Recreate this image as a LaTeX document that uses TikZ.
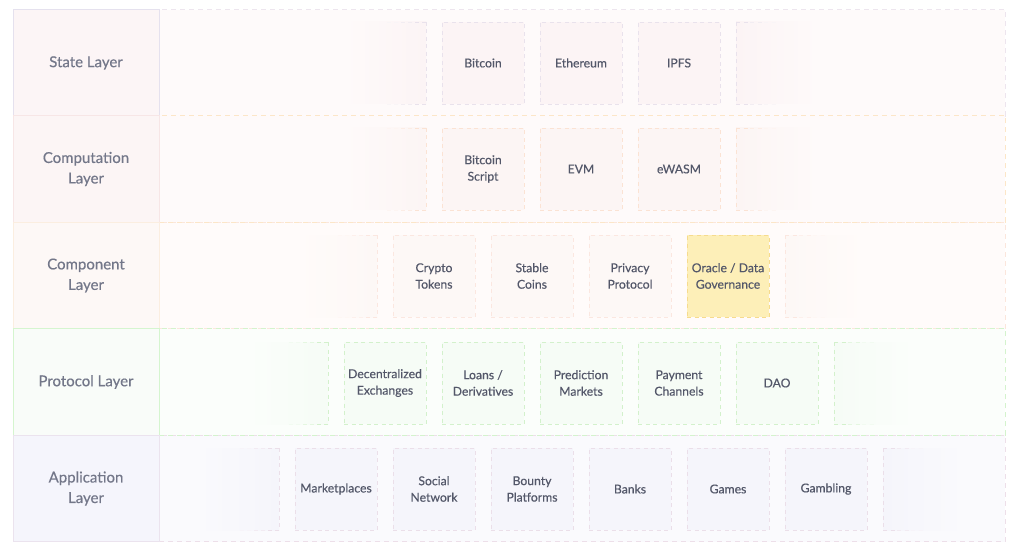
\documentclass[tikz,border=0pt]{standalone}
\usepackage{fontspec}
\setmainfont{Lato}[FakeBold=0.35]
\definecolor{txt}{HTML}{535769}
\definecolor{lbl}{HTML}{737789}
% state
\definecolor{sLf}{HTML}{FCF5F6}\definecolor{sLd}{HTML}{E5E1EE}
\definecolor{sRf}{HTML}{FEFAFA}\definecolor{sRd}{HTML}{EDE5EE}
\definecolor{sCf}{HTML}{FCF4F5}\definecolor{sCd}{HTML}{E9E2EC}
% computation
\definecolor{cLf}{HTML}{FCF5F5}\definecolor{cLd}{HTML}{F7E6E6}
\definecolor{cRf}{HTML}{FEFAFA}\definecolor{cRd}{HTML}{FCE6C8}
\definecolor{cCf}{HTML}{FCF5F4}\definecolor{cCd}{HTML}{FBE3D4}
% component
\definecolor{mLf}{HTML}{FDF8F6}\definecolor{mLd}{HTML}{FBEEE0}
\definecolor{mRf}{HTML}{FFFBFA}\definecolor{mRd}{HTML}{FBE6DC}
\definecolor{mCf}{HTML}{FDF8F6}\definecolor{mCd}{HTML}{FBE7E0}
\definecolor{orf}{HTML}{FDEFB8}\definecolor{ord}{HTML}{F6DB8E}
% protocol
\definecolor{pLf}{HTML}{F9FCF9}\definecolor{pLd}{HTML}{D5F5CF}
\definecolor{pRf}{HTML}{FBFEFB}\definecolor{pRd}{HTML}{D4F3CD}
\definecolor{pCf}{HTML}{F6FCF6}\definecolor{pCd}{HTML}{D3F1CC}
% application
\definecolor{aLf}{HTML}{F5F5FC}\definecolor{aLd}{HTML}{EBE3EE}
\definecolor{aRf}{HTML}{FAFAFD}\definecolor{aRd}{HTML}{EDDFE9}
\definecolor{aCf}{HTML}{F5F5FB}\definecolor{aCd}{HTML}{EBDFE9}
\tikzset{
  lblbox/.style={draw, line width=1pt, minimum width=146pt, minimum height=106.5pt, inner sep=0pt,
    align=center, text=lbl, font=\fontsize{15}{20.5}\selectfont},
  rowbox/.style={draw, line width=1pt, dash pattern=on 5pt off 4pt, minimum width=846pt, minimum height=106.5pt, inner sep=0pt},
  celldash/.style={line width=0.9pt, dash pattern=on 4pt off 3.5pt},
  cellbox/.style={draw, celldash, minimum width=82pt, minimum height=82pt,
    inner sep=0pt, align=center, text=txt, font=\fontsize{12.2}{16.5}\selectfont},
}
% faded partial cell: #1 centre x, #2 centre y, #3 row fill, #4 cell fill, #5 cell border, #6 = -1 (inner edge right) or 1 (inner edge left)
\newcommand\fadedcell[6]{%
  \pgfmathsetmacro\ie{#1-#6*41}%
  \pgfmathsetmacro\oe{#1+#6*41}%
  \pgfmathsetmacro\sa{\ie+#6*14}%
  \pgfmathsetmacro\sb{\ie+#6*28}%
  \pgfmathsetmacro\sc{\ie+#6*42}%
  \ifnum#6<0
    \fill[left color=#3, right color=#4] (\oe,#2-41) rectangle (\ie,#2+41);
  \else
    \fill[left color=#4, right color=#3] (\ie,#2-41) rectangle (\oe,#2+41);
  \fi
  \draw[celldash, draw=#5] (\ie,#2-41) -- (\ie,#2+41);
  \foreach \yy in {-41,41}{%
    \draw[celldash, draw=#5] (\ie,#2+\yy) -- (\sa,#2+\yy);
    \draw[line width=0.9pt, draw=#5!55!#3] (\sa,#2+\yy) [dash pattern=on 4pt off 3.5pt] -- (\sb,#2+\yy);
    \draw[line width=0.9pt, draw=#5!22!#3] (\sb,#2+\yy) [dash pattern=on 4pt off 3.5pt] -- (\sc,#2+\yy);
  }%
}
\begin{document}
\begin{tikzpicture}[x=1pt,y=-1pt]
\useasboundingbox (0,0) rectangle (1024,553);
\fill[white] (0,0) rectangle (1024,553);

% rows (drawing order sets which dashed border shows on shared edges)
\node[rowbox, fill=sRf, draw=sRd] (stateR) at (582,63) {};
\node[rowbox, fill=mRf, draw=mRd] (compoR) at (582,275.5) {};
\node[rowbox, fill=aRf, draw=aRd] (applR) at (582,488.5) {};
\node[rowbox, fill=cRf, draw=cRd] (compuR) at (582,169) {};
\node[rowbox, fill=pRf, draw=pRd] (protR) at (582,382) {};

% layer labels
\node[lblbox, fill=sLf, draw=sLd] (stateL) at (86,63) {State Layer};
\node[lblbox, fill=cLf, draw=cLd] (compuL) at (86,169) {Computation\\Layer};
\node[lblbox, fill=mLf, draw=mLd] (compoL) at (86,275.5) {Component\\Layer};
\node[lblbox, fill=pLf, draw=pLd] (protL) at (86,382) {Protocol Layer};
\node[lblbox, fill=aLf, draw=aLd] (applL) at (86,488.5) {Application\\Layer};

% state layer
\fadedcell{385}{63}{sRf}{sCf}{sCd}{-1}
\node[cellbox, fill=sCf, draw=sCd] (bitcoin) at (483,63) {Bitcoin};
\node[cellbox, fill=sCf, draw=sCd] (ethereum) at (581,63) {Ethereum};
\node[cellbox, fill=sCf, draw=sCd] (ipfs) at (679,63) {IPFS};
\fadedcell{777}{63}{sRf}{sCf}{sCd}{1}

% computation layer
\fadedcell{385}{169}{cRf}{cCf}{cCd}{-1}
\node[cellbox, fill=cCf, draw=cCd] (btcscript) at (483,169) {Bitcoin\\Script};
\node[cellbox, fill=cCf, draw=cCd] (evm) at (581,169) {EVM};
\node[cellbox, fill=cCf, draw=cCd] (ewasm) at (679,169) {eWASM};
\fadedcell{777}{169}{cRf}{cCf}{cCd}{1}

% component layer
\fadedcell{336}{276}{mRf}{mCf}{mCd}{-1}
\node[cellbox, fill=mCf, draw=mCd] (crypto) at (434,276) {Crypto\\Tokens};
\node[cellbox, fill=mCf, draw=mCd] (stable) at (532,276) {Stable\\Coins};
\node[cellbox, fill=mCf, draw=mCd] (privacy) at (630,276) {Privacy\\Protocol};
\node[cellbox, fill=orf, draw=ord] (oracle) at (728,276) {Oracle / Data\\Governance};
\fadedcell{826}{276}{mRf}{mCf}{mCd}{1}

% protocol layer
\fadedcell{287}{383}{pRf}{pCf}{pCd}{-1}
\node[cellbox, fill=pCf, draw=pCd] (dex) at (385,383) {Decentralized\\Exchanges};
\node[cellbox, fill=pCf, draw=pCd] (loans) at (483,383) {Loans /\\Derivatives};
\node[cellbox, fill=pCf, draw=pCd] (prediction) at (581,383) {Prediction\\Markets};
\node[cellbox, fill=pCf, draw=pCd] (payment) at (679,383) {Payment\\Channels};
\node[cellbox, fill=pCf, draw=pCd] (dao) at (777,383) {DAO};
\fadedcell{875}{383}{pRf}{pCf}{pCd}{1}

% application layer
\fadedcell{238}{489}{aRf}{aCf}{aCd}{-1}
\node[cellbox, fill=aCf, draw=aCd] (market) at (336,489) {Marketplaces};
\node[cellbox, fill=aCf, draw=aCd] (social) at (434,489) {Social\\Network};
\node[cellbox, fill=aCf, draw=aCd] (bounty) at (532,489) {Bounty\\Platforms};
\node[cellbox, fill=aCf, draw=aCd] (banks) at (630,489) {Banks};
\node[cellbox, fill=aCf, draw=aCd] (games) at (728,489) {Games};
\node[cellbox, fill=aCf, draw=aCd] (gambling) at (826,489) {Gambling};
\fadedcell{924}{489}{aRf}{aCf}{aCd}{1}
\end{tikzpicture}
\end{document}
